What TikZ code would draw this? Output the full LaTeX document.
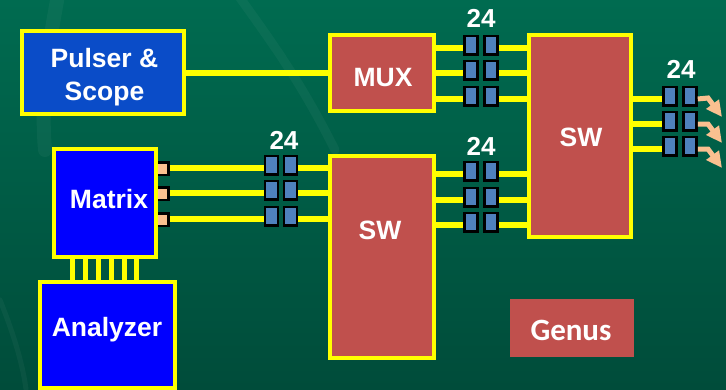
\documentclass[tikz,border=0pt]{standalone}
\usepackage{fontspec}
\setmainfont{Liberation Sans}
\newfontfamily\genusfont{Carlito}
\definecolor{bgtop}{HTML}{006B50}
\definecolor{bgbot}{HTML}{004C3A}
\definecolor{wirey}{HTML}{FFFF00}
\definecolor{redbox}{HTML}{C0504D}
\definecolor{pulseblue}{HTML}{0A4CC8}
\definecolor{pureblue}{HTML}{0000FF}
\definecolor{connblue}{HTML}{4F81BD}
\definecolor{peach}{HTML}{FAC090}
\usetikzlibrary{arrows.meta}
\tikzset{
  x=1pt,y=-1pt,
  block/.style={draw=wirey,line width=4pt,inner sep=0pt,outer sep=0pt,text=white,align=center},
  conn/.style={draw=black,line width=2.5pt,fill=connblue,minimum width=13pt,minimum height=18.5pt,inner sep=0pt,outer sep=1.25pt},
  port/.style={draw=black,line width=2.5pt,fill=peach,minimum width=17.25pt,minimum height=12.5pt,inner sep=0pt,outer sep=1.25pt},
  wire/.style={draw=wirey,line width=5.5pt},
  count/.style={text=white,inner sep=0pt,font=\fontsize{26}{30}\selectfont\bfseries},
  lbl/.style={text=white,inner sep=0pt,font=\fontsize{26.5}{33}\selectfont\bfseries,align=center},
  swoosh/.style={draw=white,opacity=0.04,line cap=round},
  outarrow/.style={draw=peach,line width=5pt,-{Triangle[length=16pt,width=15pt]}}
}
\begin{document}
\begin{tikzpicture}
\useasboundingbox (0,0) rectangle (726,389);
\shade[top color=bgtop,bottom color=bgbot] (0,0) rectangle (726,389);
% faint background swooshes
\draw[swoosh,line width=9pt] (238,-5) .. controls (270,40) and (300,80) .. (335,150);
\draw[swoosh,line width=14pt] (58,-5) .. controls (50,40) and (40,90) .. (45,150);
\draw[swoosh,line width=5pt] (0,300) .. controls (12,330) and (22,360) .. (26,389);

% matrix output ports (left edge hidden behind the Matrix block)
\node[port] (p1) at (160,168.5) {};
\node[port] (p2) at (160,193.5) {};
\node[port] (p3) at (160,219.5) {};

% blocks
\node[block,fill=pulseblue,minimum width=162pt,minimum height=83pt] (pulser) at (103,72.5) {};
\node[block,fill=redbox,minimum width=104pt,minimum height=76pt] (mux) at (382,73) {};
\node[block,fill=redbox,minimum width=102pt,minimum height=202pt] (swr) at (580,136) {};
\node[block,fill=redbox,minimum width=104pt,minimum height=202pt] (swm) at (382,257) {};
\node[block,fill=pureblue,minimum width=102pt,minimum height=108pt] (matrix) at (105,203) {};
\node[block,fill=pureblue,minimum width=135pt,minimum height=106pt] (analyzer) at (107.5,335) {};
\node[fill=redbox,minimum width=124pt,minimum height=58pt,inner sep=0pt] (genus) at (572,328) {};

% labels
\node[lbl] (tpulser) at (104.5,77) {Pulser \&\\Scope\hspace{7pt}};
\node[lbl] (tmux) at (383,78) {MUX};
\node[lbl] (tswr) at (581,137) {SW};
\node[lbl] (tswm) at (380,230) {SW};
\node[lbl] (tmatrix) at (109,199) {Matrix};
\node[lbl] (tanalyzer) at (107,330) {Analyzer};
\node[text=white,inner sep=0pt,font=\fontsize{31}{33}\selectfont\genusfont\bfseries] (tgenus) at (571,330) {Genus};

% Pulser to MUX
\draw[wire] (pulser.east |- mux) -- (mux.west);

% Matrix to Analyzer
\foreach \i/\px in {1/72,2/85,3/98,4/111,5/124,6/136}{
  \coordinate (mt\i) at (\px,257);
  \coordinate (ab\i) at (\px,282);
  \draw[wirey,line width=5pt] (mt\i) -- (ab\i);
}

% connector pairs
\foreach \n/\xa/\xb/\yy in {
  a/471/491/45, b/471/491/70, c/471/491/96,
  d/471/491/171, e/471/491/197, f/471/491/222,
  g/670/690/96, h/670/690/121, i/670/690/146,
  j/271.5/290.5/165, k/271.5/290.5/190, l/271.5/290.5/216}{
  \node[conn] (\n1) at (\xa,\yy) {};
  \node[conn] (\n2) at (\xb,\yy) {};
}

% wires through connectors (3pt below the centre of each pair)
\foreach \n in {a,b,c}{
  \coordinate (w) at ([yshift=-3pt]\n1.west);
  \draw[wire] (mux.east |- w) -- (w);
  \coordinate (w) at ([yshift=-3pt]\n2.east);
  \draw[wire] (w) -- (swr.west |- w);
}
\foreach \n in {d,e,f}{
  \coordinate (w) at ([yshift=-3pt]\n1.west);
  \draw[wire] (swm.east |- w) -- (w);
  \coordinate (w) at ([yshift=-3pt]\n2.east);
  \draw[wire] (w) -- (swr.west |- w);
}
\foreach \n in {g,h,i}{
  \coordinate (w) at ([yshift=-3pt]\n1.west);
  \draw[wire] (swr.east |- w) -- (w);
}
\foreach \n/\p in {j/p1,k/p2,l/p3}{
  \coordinate (w) at ([yshift=-3pt]\n1.west);
  \draw[wire] (\p.east |- w) -- (w);
  \coordinate (w) at ([yshift=-3pt]\n2.east);
  \draw[wire] (w) -- (swm.west |- w);
}

% outgoing arrows
\foreach \n/\yy in {g/98,h/124,i/149}{
  \coordinate (ae) at (722,\yy+19);
  \coordinate (am) at (708,\yy);
  \draw[outarrow] ([yshift=-3pt]\n2.east) -- (am) -- (ae);
}

% counts
\node[count] (c1) at (481,18) {24};
\node[count] (c2) at (481,146) {24};
\node[count] (c3) at (681,69) {24};
\node[count] (c4) at (284,140) {24};
\end{tikzpicture}
\end{document}
